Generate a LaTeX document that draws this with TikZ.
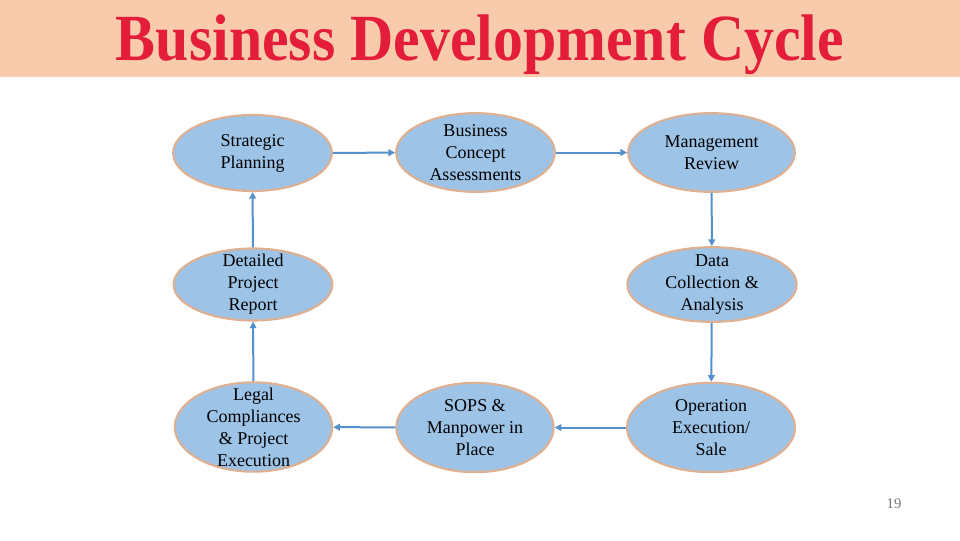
\documentclass[tikz,border=0pt]{standalone}
\usepackage{fontspec}
\setmainfont{Liberation Serif}
\usetikzlibrary{shapes.geometric,arrows.meta}
\definecolor{banner}{RGB}{248,203,173}
\definecolor{titlered}{RGB}{228,30,58}
\definecolor{bubblefill}{RGB}{157,195,230}
\definecolor{bubbleedge}{RGB}{222,176,146}
\definecolor{arrowblue}{RGB}{84,144,204}
\definecolor{pagegray}{RGB}{120,120,120}
\tikzset{
  bubble/.style={ellipse, draw=bubbleedge, fill=bubblefill, line width=1.6pt, inner sep=0pt},
  lbl/.style={align=center, font=\fontsize{13.5}{16.5}\selectfont, inner sep=0pt},
  flow/.style={draw=arrowblue, line width=1.5pt, -{Triangle[length=5pt,width=5pt]}},
}
\begin{document}
\begin{tikzpicture}[x=0.75pt,y=-0.75pt]
\useasboundingbox (0,0) rectangle (960,540);
\fill[white] (0,0) rectangle (960,540);
\fill[banner] (0,0) rectangle (960,77);
\node[text=titlered, inner sep=0pt] (title) at (480,44.5)
  {\scalebox{0.935}[1.03]{\fontsize{48}{50}\selectfont\bfseries Business Development Cycle}};

\node[bubble, minimum width=119pt, minimum height=57pt] (sp) at (252.5,153) {};
\node[bubble, minimum width=119pt, minimum height=59pt] (bca) at (475.5,152.5) {};
\node[bubble, minimum width=125pt, minimum height=59pt] (mr) at (711.5,152.5) {};
\node[bubble, minimum width=127pt, minimum height=56pt] (dca) at (712,284.5) {};
\node[bubble, minimum width=119pt, minimum height=54pt] (dpr) at (253,284.5) {};
\node[bubble, minimum width=118pt, minimum height=67pt] (lc) at (253.5,427) {};
\node[bubble, minimum width=118pt, minimum height=67pt] (sops) at (475,427.5) {};
\node[bubble, minimum width=126pt, minimum height=67pt] (oes) at (711,427.5) {};

\node[lbl] (sp-t) at (sp) {Strategic\\Planning};
\node[lbl] (bca-t) at (bca) {Business\\Concept\\Assessments};
\node[lbl] (mr-t) at (mr) {Management\\Review};
\node[lbl] (dca-t) at (dca) {Data\\Collection \&\\Analysis};
\node[lbl] (dpr-t) at (dpr) {Detailed\\Project\\Report};
\node[lbl] (lc-t) at (lc) {Legal\\Compliances\\\& Project\\Execution};
\node[lbl] (sops-t) at (sops) {SOPS \&\\Manpower in\\Place};
\node[lbl] (oes-t) at (oes) {Operation\\Execution/\\Sale};

\draw[flow] (sp) -- (bca);
\draw[flow] (bca) -- (mr);
\draw[flow] (mr) -- (dca);
\draw[flow] (dca) -- (oes);
\draw[flow] (oes) -- (sops);
\draw[flow] (sops) -- (lc);
\draw[flow] (lc) -- (dpr);
\draw[flow] (dpr) -- (sp);

\node[text=pagegray, font=\fontsize{11}{13}\selectfont] (page) at (894,504) {19};
\end{tikzpicture}
\end{document}
